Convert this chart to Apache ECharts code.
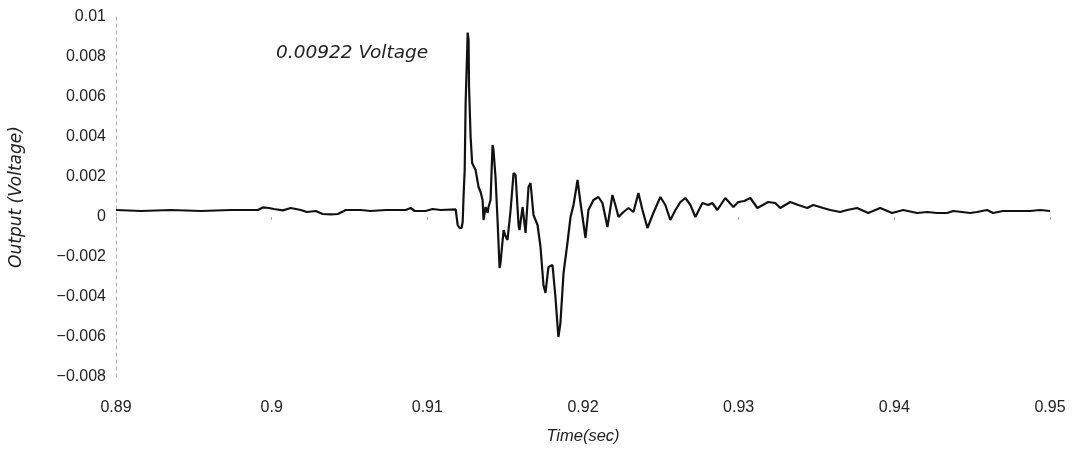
<!DOCTYPE html>
<html>
<head>
<meta charset="utf-8">
<script src="https://cdn.jsdelivr.net/npm/echarts@6/dist/echarts.min.js"></script>
<style>
  html, body { margin: 0; padding: 0; background: #fff; }
  #chart { width: 1082px; height: 455px; }
</style>
</head>
<body>
<div id="chart"></div>
<script>
// time (sec) and output (voltage)
const times = [
  0.89, 0.8916, 0.89353, 0.89545, 0.89738, 0.89911, 0.89943, 0.89982, 0.90014, 0.90072,
  0.90123, 0.90187, 0.90226, 0.90283, 0.90328, 0.9038, 0.90425, 0.90476, 0.90572, 0.90636,
  0.90733, 0.90861, 0.90893, 0.90919, 0.90989, 0.91034, 0.91086, 0.91182, 0.91195, 0.91207,
  0.9122, 0.91227, 0.91233, 0.9124, 0.91246, 0.91256, 0.91259, 0.91265, 0.91268, 0.91278,
  0.91288, 0.91297, 0.9131, 0.91329, 0.91342, 0.91355, 0.91361, 0.91374, 0.91387, 0.91393,
  0.91406, 0.91419, 0.91425, 0.91438, 0.91451, 0.91464, 0.9147, 0.9149, 0.91502, 0.91515,
  0.91535, 0.91554, 0.91567, 0.91586, 0.91592, 0.91612, 0.91631, 0.9165, 0.91663, 0.91682,
  0.91708, 0.91727, 0.91746, 0.91759, 0.91778, 0.91804, 0.91823, 0.91836, 0.91842, 0.91855,
  0.91875, 0.919, 0.9192, 0.91939, 0.91965, 0.91984, 0.92016, 0.92035, 0.92067, 0.92099,
  0.92125, 0.92157, 0.92189, 0.92208, 0.92228, 0.9226, 0.92292, 0.92324, 0.92356, 0.92382,
  0.92414, 0.92452, 0.92497, 0.92529, 0.92561, 0.92594, 0.92626, 0.92658, 0.9269, 0.92722,
  0.92767, 0.92805, 0.92831, 0.92863, 0.92914, 0.92966, 0.92998, 0.93036, 0.93075, 0.9312,
  0.9319, 0.93235, 0.93267, 0.93331, 0.93383, 0.93441, 0.93479, 0.93543, 0.93588, 0.93652,
  0.93697, 0.93761, 0.93832, 0.93909, 0.93986, 0.94057, 0.94147, 0.94211, 0.94275, 0.94339,
  0.94378, 0.94435, 0.94487, 0.94531, 0.94596, 0.94634, 0.94698, 0.94788, 0.94872, 0.94936,
  0.95
];
const volts = [
  0.00035, 0.0003, 0.00035, 0.0003, 0.00035, 0.00035, 0.00048, 0.00045, 0.0004, 0.00033,
  0.00045, 0.00035, 0.00025, 0.0003, 0.00015, 0.00013, 0.00015, 0.00035, 0.00035, 0.0003,
  0.00035, 0.00035, 0.00045, 0.0003, 0.0003, 0.0004, 0.00035, 0.00038, -0.0004, -0.00055,
  -0.00055, -0.00025, 0.0011, 0.00235, 0.0057, 0.00835, 0.00922, 0.00885, 0.0065, 0.004,
  0.0027, 0.00255, 0.00235, 0.0015, 0.00125, 0.00085, -0.00015, 0.0005, 0.0002, 0.0005,
  0.00085, 0.0036, 0.00335, 0.002, -0.00015, -0.00255, -0.0023, -0.00065, -0.00095, -0.00115,
  0.00035, 0.0022, 0.0021, -0.0004, -0.00065, 0.0005, -0.0008, 0.0015, 0.0017, 0.0001,
  -0.0004, -0.0015, -0.0034, -0.0038, -0.0025, -0.0024, -0.004, -0.0054, -0.006, -0.0053,
  -0.0028, -0.0013, 0, 0.0006, 0.00185, 0.0007, -0.00105, 0.00035, 0.00085, 0.001,
  0.0007, -0.0005, 0.0011, 0.0006, 0, 0.00025, 0.00045, 0.00025, 0.0012, 0.00035,
  -0.00055, 0.0002, 0.001, 0.0006, -0.00015, 0.00035, 0.00075, 0.00095, 0.0006, 0,
  0.0007, 0.0006, 0.0007, 0.00035, 0.00095, 0.0005, 0.00075, 0.0008, 0.00095, 0.00045,
  0.00075, 0.0007, 0.00045, 0.00075, 0.0006, 0.00045, 0.0006, 0.00045, 0.00035, 0.00025,
  0.00035, 0.00045, 0.0002, 0.00045, 0.0002, 0.00035, 0.0002, 0.00025, 0.0002, 0.0002,
  0.0003, 0.00025, 0.0002, 0.00025, 0.00035, 0.0002, 0.0003, 0.0003, 0.0003, 0.00035,
  0.0003
];
const peakValue = 0.00922;

const fontFamily = '"Liberation Sans", Arial, sans-serif';
const wideFont = '"DejaVu Sans", "Liberation Sans", sans-serif';
const textColor = "#222";

const myChart = echarts.init(document.getElementById("chart"));
const option = {
  backgroundColor: "#fff",
  animation: false,
  grid: {
    left: 115,
    right: 32,
    top: 17,
    bottom: 78,
  },
  graphic: [
    {
      type: "text",
      left: 276,
      top: 44,
      style: {
        text: peakValue + " Voltage",
        font: "italic 18.5px " + wideFont,
        fill: textColor,
      },
    },
  ],
  xAxis: {
    type: "value",
    min: 0.89,
    max: 0.95,
    interval: 0.01,
    name: "Time(sec)",
    nameLocation: "middle",
    nameGap: 51,
    nameTextStyle: {
      fontFamily: fontFamily,
      fontStyle: "italic",
      fontSize: 16.5,
      color: textColor,
    },
    axisLine: { show: false },
    axisTick: {
      show: true,
      length: 3,
      lineStyle: { color: "#aaa" },
    },
    axisLabel: {
      margin: 23,
      fontFamily: fontFamily,
      fontSize: 16,
      color: textColor,
    },
    splitLine: { show: false },
  },
  yAxis: {
    type: "value",
    min: -0.008,
    max: 0.01,
    interval: 0.002,
    name: "Output (Voltage)",
    nameLocation: "middle",
    nameGap: 91,
    nameTextStyle: {
      fontFamily: wideFont,
      fontStyle: "italic",
      fontSize: 17,
      color: textColor,
    },
    axisLine: {
      show: true,
      lineStyle: { color: "#aaa", type: [3, 4], width: 1 },
    },
    axisTick: { show: false },
    axisLabel: {
      margin: 10,
      fontFamily: fontFamily,
      fontSize: 16,
      color: textColor,
      formatter: (v) => String(+v.toFixed(4)).replace("-", "\u2212"),
    },
    splitLine: { show: false },
  },
  series: [
    {
      type: "line",
      data: times.map((t, i) => [t, volts[i]]),
      showSymbol: false,
      lineStyle: { color: "#111", width: 2.2 },
    },
  ],
};
myChart.setOption(option);
</script>
</body>
</html>
